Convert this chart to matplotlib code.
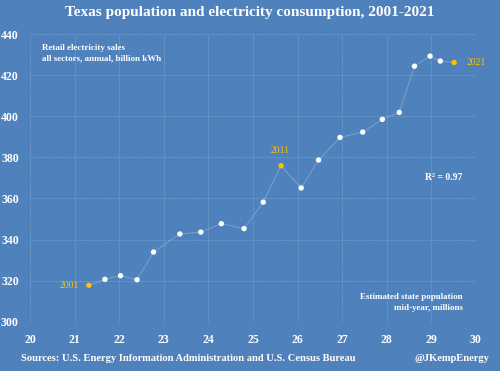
import matplotlib
matplotlib.use("Agg")
import matplotlib.pyplot as plt

years = list(range(2001, 2022))
population = [21.32, 21.68, 22.03, 22.40, 22.77, 23.36, 23.83, 24.29, 24.80, 25.23,
              25.63, 26.08, 26.47, 26.95, 27.46, 27.90, 28.28, 28.62, 28.97, 29.20, 29.51]
sales = [317.7, 320.6, 322.4, 320.4, 333.9, 342.7, 343.6, 347.7, 345.3, 358.2,
         375.9, 365.1, 378.7, 389.7, 392.3, 398.5, 401.9, 424.4, 429.3, 426.9, 426.2]
highlight_years = [2001, 2011, 2021]
x_ticks = list(range(20, 31))
y_ticks = list(range(300, 441, 20))

BG = "#4F81BD"
YEL = "#FFC000"
plt.rcParams['font.family'] = ['Liberation Serif', 'DejaVu Serif']

fig = plt.figure(figsize=(5, 3.71), dpi=100, facecolor=BG)
ax = fig.add_axes([0.06, 0.133, 0.892, 0.775], facecolor=BG)

ax.plot(population, sales, color="white", alpha=0.25, lw=0.7, zorder=2)
cols = [YEL if y in highlight_years else "white" for y in years]
ax.scatter(population, sales, s=15, c=cols, zorder=3, linewidths=0)

ax.set_xlim(20, 30)
ax.set_ylim(300, 440)
ax.set_xticks(x_ticks)
ax.set_yticks(y_ticks)
ax.grid(True, color="#A9C3E4", lw=0.6, ls=(0, (1, 1.2)), alpha=0.55)
for s in ax.spines.values():
    s.set_visible(False)
ax.tick_params(length=0, colors="white", labelsize=8.5, pad=8)
ax.tick_params(axis='x', pad=9)
for lab in ax.get_xticklabels() + ax.get_yticklabels():
    lab.set_fontweight("bold")

fig.text(0.5, 0.966, "Texas population and electricity consumption, 2001-2021",
         ha="center", va="center", color="white", fontsize=11, fontweight="bold")

ax.text(0.027, 0.966, "Retail electricity sales\nall sectors, annual, billion kWh",
        transform=ax.transAxes, ha="left", va="top", color="white", fontsize=6.5,
        fontweight="bold", linespacing=1.35)
ax.text(0.97, 0.035, "Estimated state population\nmid-year, millions",
        transform=ax.transAxes, ha="right", va="bottom", color="white", fontsize=6.5,
        fontweight="bold", linespacing=1.35, multialignment="right")
ax.text(0.969, 0.50, "R² = 0.97", transform=ax.transAxes, ha="right", va="center",
        color="white", fontsize=7, fontweight="bold")

i01 = years.index(2001)
i11 = years.index(2011)
i21 = years.index(2021)
ax.annotate("2001", (population[i01], sales[i01]), xytext=(-7, 0), textcoords="offset points",
            ha="right", va="center", color=YEL, fontsize=7)
ax.annotate("2011", (population[i11], sales[i11]), xytext=(-1, 11), textcoords="offset points",
            ha="center", va="center", color=YEL, fontsize=7)
ax.annotate("2021", (population[i21], sales[i21]), xytext=(9, 0), textcoords="offset points",
            ha="left", va="center", color=YEL, fontsize=7)

fig.text(0.042, 0.035, "Sources: U.S. Energy Information Administration and U.S. Census Bureau",
         ha="left", va="center", color="white", fontsize=7.6, fontweight="bold")
fig.text(0.978, 0.035, "@JKempEnergy", ha="right", va="center", color="white",
         fontsize=7.6, fontweight="bold")

fig.savefig("out.png", dpi=100, facecolor=BG)
